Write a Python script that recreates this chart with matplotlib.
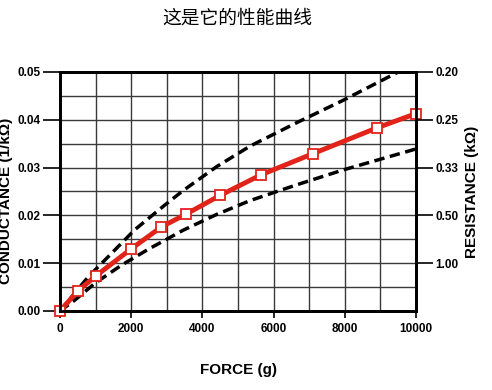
import matplotlib
matplotlib.use("Agg")
import matplotlib.pyplot as plt
import numpy as np

plt.rcParams['font.family'] = ['Liberation Sans', 'Noto Sans CJK SC', 'DejaVu Sans']

# measured response (red) and the spread band (dashed)
force = [0, 500, 1000, 2000, 2850, 3550, 4500, 5650, 7100, 8900, 10000]
conductance = [0.0, 0.0042, 0.0073, 0.0130, 0.0176, 0.0203, 0.0242, 0.0285, 0.0329, 0.0383, 0.0413]

upper_force = [0, 800, 1360, 2100, 2950, 3460, 4400, 5340, 6650, 7960, 9500]
upper_cond = [0.0, 0.0072, 0.0114, 0.0170, 0.0222, 0.0252, 0.0302, 0.0345, 0.0394, 0.0441, 0.0500]

lower_force = [0, 420, 980, 1730, 2500, 3460, 4400, 5340, 6650, 7950, 10000]
lower_cond = [0.0, 0.0023, 0.0058, 0.0096, 0.0130, 0.0169, 0.0202, 0.0231, 0.0264, 0.0295, 0.0339]

left_ticks = [0.0, 0.01, 0.02, 0.03, 0.04, 0.05]
left_labels = ["0.00", "0.01", "0.02", "0.03", "0.04", "0.05"]
right_ticks = [0.01, 0.02, 0.03, 0.04, 0.05]
right_labels = ["1.00", "0.50", "0.33", "0.25", "0.20"]
x_ticks = [0, 2000, 4000, 6000, 8000, 10000]

fig = plt.figure(figsize=(4.92, 3.90), dpi=100)
ax = fig.add_axes([0.122, 0.2026, 0.7235, 0.6128])

# grid every 1000 g and 0.005
for gx in np.arange(1000, 10000, 1000):
    ax.axvline(gx, color='#3a3a3a', lw=1.0, zorder=1)
for gy in np.arange(0.005, 0.05, 0.005):
    ax.axhline(gy, color='#3a3a3a', lw=1.0, zorder=1)

ax.plot(upper_force, upper_cond, color='black', lw=2.5, ls=(0, (3, 1.6)), zorder=3)
ax.plot(lower_force, lower_cond, color='black', lw=2.5, ls=(0, (3, 1.6)), zorder=3)
ax.plot(force, conductance, color='#e2231a', lw=3.5, marker='s', ms=7.5,
        mfc='white', mec='#e2231a', mew=1.3, zorder=4, clip_on=False)

ax.set_xlim(0, 10000)
ax.set_ylim(0, 0.05)
ax.set_xticks(x_ticks)
ax.set_xticklabels([str(v) for v in x_ticks], fontweight='bold', fontsize=8.5)
ax.set_yticks(left_ticks)
ax.set_yticklabels(left_labels, fontweight='bold', fontsize=8.5)
ax.tick_params(axis='y', direction='out', length=12, width=1.2, pad=2)
ax.tick_params(axis='x', direction='out', length=5, width=1.2, pad=4)
for s in ax.spines.values():
    s.set_linewidth(2)

ax2 = ax.twinx()
ax2.set_ylim(0, 0.05)
ax2.set_yticks(right_ticks)
ax2.set_yticklabels(right_labels, fontweight='bold', fontsize=8.5)
ax2.tick_params(axis='y', direction='out', length=12, width=1.2, pad=2)
for s in ax2.spines.values():
    s.set_linewidth(2)

ax.set_xlabel("FORCE (g)", fontweight='bold', fontsize=11, labelpad=20)
fig.text(0.013, 0.485, "CONDUCTANCE (1/kΩ)", rotation=90, ha='center', va='center',
         fontweight='bold', fontsize=11)
ax2.set_ylabel("RESISTANCE (kΩ)", fontweight='bold', fontsize=11, labelpad=5)

fig.text(0.483, 0.954, "这是它的性能曲线", ha='center', va='center', fontsize=13.5,
         family=['Noto Sans CJK SC', 'DejaVu Sans'])

fig.savefig("out.png", dpi=100)
